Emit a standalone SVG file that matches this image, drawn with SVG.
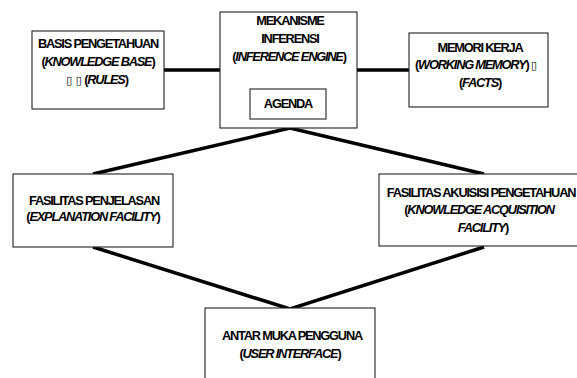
<svg xmlns="http://www.w3.org/2000/svg" width="577" height="378" viewBox="0 0 577 378">
<style>
.box{fill:#fff;stroke:#222;stroke-width:1.1}
.con{stroke:#000;stroke-width:3.5;fill:none;stroke-linecap:butt}
text{font-family:"Liberation Sans",Arial,"DejaVu Sans",sans-serif;font-weight:bold;font-size:12.8px;letter-spacing:-1.2px;text-anchor:middle;fill:#000}
.i{font-style:italic}
.t{font-family:"DejaVu Sans",sans-serif;font-weight:normal;font-size:11px;letter-spacing:0}
</style>
<rect width="577" height="378" fill="#fff"/>
<g id="connectors">
<line class="con" x1="164" y1="70" x2="220" y2="70"/>
<line class="con" x1="357" y1="70" x2="409" y2="70"/>
<polyline class="con" points="93,174 290,128 484,174"/>
<polyline class="con" points="93,247 290,309 484,247"/>
</g>
<g id="basis">
<rect class="box" x="32" y="31" width="132" height="78"/>
<text x="98" y="48">BASIS PENGETAHUAN</text>
<text x="98" y="66">(<tspan class="i">KNOWLEDGE BASE</tspan>)</text>
<text x="97" y="84"><tspan class="t">▯ ▯</tspan> (<tspan class="i">RULES</tspan>)</text>
</g>
<g id="mekanisme">
<rect class="box" x="220" y="12" width="137" height="116"/>
<text x="290" y="25">MEKANISME</text>
<text x="290" y="43">INFERENSI</text>
<text x="289" y="61">(<tspan class="i">INFERENCE ENGINE</tspan>)</text>
</g>
<g id="agenda">
<rect class="box" x="250" y="89" width="76" height="30"/>
<text x="288" y="108">AGENDA</text>
</g>
<g id="memori">
<rect class="box" x="409" y="33" width="139" height="74"/>
<text x="480" y="51.5">MEMORI KERJA</text>
<text x="476" y="69">(<tspan class="i">WORKING MEMORY</tspan>) <tspan class="t">▯</tspan></text>
<text x="480" y="87">(<tspan class="i">FACTS</tspan>)</text>
</g>
<g id="penjelasan">
<rect class="box" x="13" y="174" width="160" height="73"/>
<text x="94" y="204.5">FASILITAS PENJELASAN</text>
<text x="93" y="220.5">(<tspan class="i">EXPLANATION FACILITY</tspan>)</text>
</g>
<g id="akuisisi">
<rect class="box" x="379" y="174" width="206" height="72"/>
<text x="481" y="196.5">FASILITAS AKUISISI PENGETAHUAN</text>
<text x="479" y="214">(<tspan class="i">KNOWLEDGE ACQUISITION</tspan></text>
<text x="483" y="231.5"><tspan class="i">FACILITY</tspan>)</text>
</g>
<g id="antarmuka">
<rect class="box" x="205" y="308" width="170" height="80"/>
<text x="292" y="340">ANTAR MUKA PENGGUNA</text>
<text x="290" y="358">(<tspan class="i">USER INTERFACE</tspan>)</text>
</g>
</svg>
